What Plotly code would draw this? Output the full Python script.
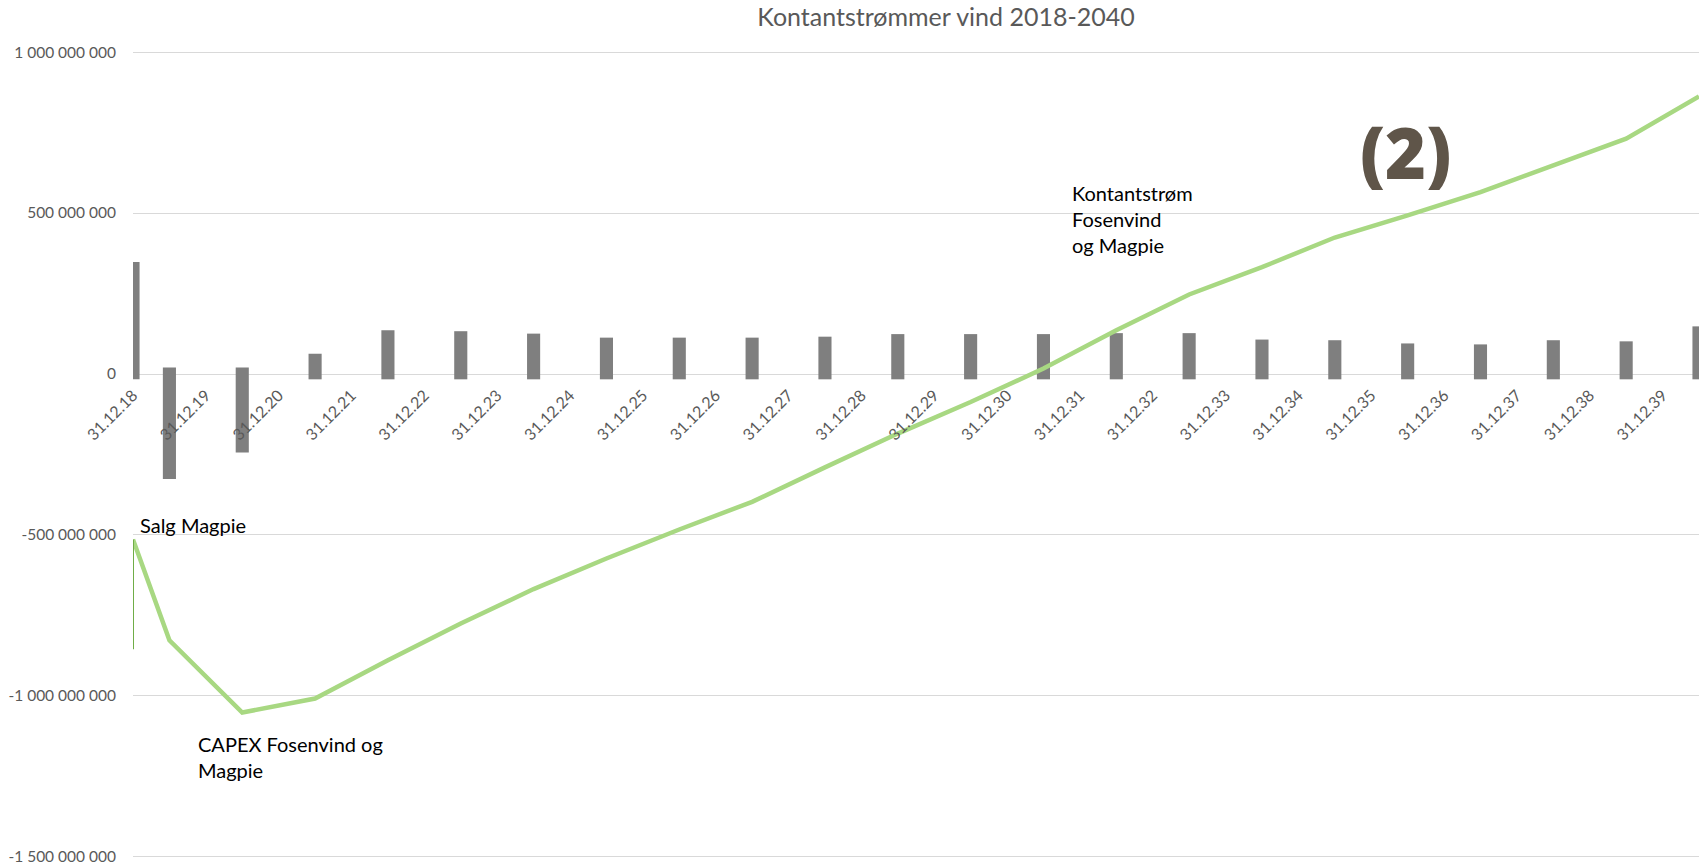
import plotly.graph_objects as go

# x positions in years after 31.12.18
tick_pos = list(range(22))
tick_labels = ["31.12.%02d" % y for y in range(18, 40)]

bar_x = [0, 0.5, 1.5, 2.5, 3.5, 4.5, 5.5, 6.5, 7.5, 8.5, 9.5, 10.5,
         11.5, 12.5, 13.5, 14.5, 15.5, 16.5, 17.5, 18.5, 19.5, 20.5, 21.5]
# bar tops and bottoms (MNOK)
bar_top = [348, 20, 20, 63, 136, 133, 125.5, 113, 113, 113, 116, 124,
           124, 124, 127, 127, 107, 105, 95, 92, 105, 101.5, 148]
bar_bottom = [-16.5, -326, -244, -16.5, -16.5, -16.5, -16.5, -16.5, -16.5,
              -16.5, -16.5, -16.5, -16.5, -16.5, -16.5, -16.5, -16.5,
              -16.5, -16.5, -16.5, -16.5, -16.5, -16.5]

# cumulative cash flow (MNOK)
line_x = bar_x
line_y = [-514, -827, -1051.6, -1008, -889, -775, -668, -573, -483, -397,
          -290, -185, -87, 17, 136, 247, 332, 424, 493, 565, 648, 731, 862]

# sale of Magpie step at start
step_x = [0, 0]
step_y = [-855, -514]

y_ticks = [-1500, -1000, -500, 0, 500, 1000]
y_ticktext = ["-1 500 000 000", "-1 000 000 000", "-500 000 000", "0",
              "500 000 000", "1 000 000 000"]

M = 1e6
font = "Lato, 'Open Sans', sans-serif"

fig = go.Figure()
fig.add_trace(go.Bar(
    x=bar_x,
    y=[(t - b) * M for t, b in zip(bar_top, bar_bottom)],
    base=[b * M for b in bar_bottom],
    width=0.18,
    marker=dict(color="#7f7f7f", line=dict(width=0)),
    showlegend=False,
))
fig.add_trace(go.Scatter(
    x=line_x, y=[v * M for v in line_y], mode="lines",
    line=dict(color="#a8d882", width=4.5), showlegend=False,
))
fig.add_trace(go.Scatter(
    x=step_x, y=[v * M for v in step_y], mode="lines",
    line=dict(color="#70ad47", width=2), showlegend=False,
))

# y range padded a little so the end gridlines are still drawn
pad = 6.5 * M
y0, y1 = -1500 * M - pad, 1000 * M + pad
xaxis_pos = (0 - y0) / (y1 - y0)

fig.update_layout(
    width=1708, height=865,
    margin=dict(l=133, r=9, t=50, b=6),
    paper_bgcolor="white", plot_bgcolor="white",
    font=dict(family=font, color="#595959"),
    barmode="overlay",
    title=dict(text="Kontantstrømmer vind 2018-2040", font=dict(size=25, color="#595959"),
               x=946 / 1708, xref="container", xanchor="center",
               y=1 - 17 / 865, yref="container", yanchor="middle"),
    xaxis=dict(range=[0, 21.5], tickvals=tick_pos, ticktext=tick_labels,
               tickangle=-45, tickfont=dict(size=16, color="#595959"),
               showgrid=False, zeroline=False, showline=False, ticks="",
               anchor="free", position=xaxis_pos, ticklabelstandoff=8, automargin=False),
    yaxis=dict(range=[y0, y1], tickvals=[v * M for v in y_ticks], ticktext=y_ticktext,
               tickfont=dict(size=15.5, color="#595959"), showgrid=True,
               gridcolor="#d9d9d9", gridwidth=1.3, zeroline=False, showline=False,
               ticks="", ticklabelstandoff=16, ticklabeloverflow="allow", automargin=False),
    annotations=[
        dict(x=0.07, y=-468 * M, text="Salg Magpie", showarrow=False,
             xanchor="left", yanchor="middle", font=dict(size=20, color="black")),
        dict(x=0.86, y=-1190 * M, text="CAPEX Fosenvind og<br>Magpie", showarrow=False,
             xanchor="left", yanchor="middle", align="left", font=dict(size=20, color="black")),
        dict(x=12.86, y=480 * M, text="Kontantstrøm<br>Fosenvind<br>og Magpie", showarrow=False,
             xanchor="left", yanchor="middle", align="left", font=dict(size=20, color="black")),
        dict(x=17.47, y=690 * M, text="(2)", showarrow=False,
             xanchor="center", yanchor="middle",
             font=dict(size=70, color="#5f5549", family="'Open Sans', sans-serif", weight=800)),
    ],
)

# drop the default body margin so the figure fills the window exactly
fig.write_html("out.html", config={"displayModeBar": False},
               post_script="document.body.style.margin='0px';")
